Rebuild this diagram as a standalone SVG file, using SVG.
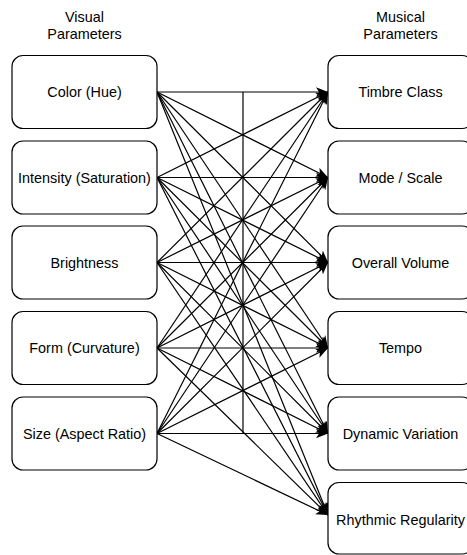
<svg xmlns="http://www.w3.org/2000/svg" width="467" height="555" viewBox="0 0 467 555">
<style>
.box{fill:#fff;stroke:#000;stroke-width:1.2}
.lbl{font-family:"Liberation Sans",Arial,sans-serif;font-size:14.4px;fill:#000;text-anchor:middle}
.edge{stroke:#000;stroke-width:1.2;fill:none;marker-end:url(#arr)}
.plain{stroke:#000;stroke-width:1.2;fill:none}
</style>
<defs>
<marker id="arr" markerUnits="userSpaceOnUse" markerWidth="12" markerHeight="10" viewBox="0 0 10 8" refX="10" refY="4" orient="auto">
<path d="M0,0 L10,4 L0,8 L2.5,4 Z" fill="#000"/>
</marker>
</defs>
<rect width="467" height="555" fill="#fff"/>
<g id="titles">
<text class="lbl" x="84.5" y="21.5">Visual</text>
<text class="lbl" x="84.5" y="39">Parameters</text>
<text class="lbl" x="400.5" y="21.5">Musical</text>
<text class="lbl" x="400.5" y="39">Parameters</text>
</g>
<g id="connectors">
<path class="plain" d="M243,92 V433.5"/>
<line class="edge" x1="157" y1="92" x2="328" y2="92"/>
<line class="edge" x1="157" y1="92" x2="328" y2="177.5"/>
<line class="edge" x1="157" y1="92" x2="328" y2="262.5"/>
<line class="edge" x1="157" y1="92" x2="328" y2="348"/>
<line class="edge" x1="157" y1="92" x2="328" y2="433.5"/>
<line class="edge" x1="157" y1="92" x2="328" y2="515"/>
<line class="edge" x1="157" y1="177.5" x2="328" y2="92"/>
<line class="edge" x1="157" y1="177.5" x2="328" y2="177.5"/>
<line class="edge" x1="157" y1="177.5" x2="328" y2="262.5"/>
<line class="edge" x1="157" y1="177.5" x2="328" y2="348"/>
<line class="edge" x1="157" y1="177.5" x2="328" y2="433.5"/>
<line class="edge" x1="157" y1="177.5" x2="328" y2="515"/>
<line class="edge" x1="157" y1="262.5" x2="328" y2="92"/>
<line class="edge" x1="157" y1="262.5" x2="328" y2="177.5"/>
<line class="edge" x1="157" y1="262.5" x2="328" y2="262.5"/>
<line class="edge" x1="157" y1="262.5" x2="328" y2="348"/>
<line class="edge" x1="157" y1="262.5" x2="328" y2="433.5"/>
<line class="edge" x1="157" y1="262.5" x2="328" y2="515"/>
<line class="edge" x1="157" y1="348" x2="328" y2="92"/>
<line class="edge" x1="157" y1="348" x2="328" y2="177.5"/>
<line class="edge" x1="157" y1="348" x2="328" y2="262.5"/>
<line class="edge" x1="157" y1="348" x2="328" y2="348"/>
<line class="edge" x1="157" y1="348" x2="328" y2="433.5"/>
<line class="edge" x1="157" y1="348" x2="328" y2="515"/>
<line class="edge" x1="157" y1="433.5" x2="328" y2="92"/>
<line class="edge" x1="157" y1="433.5" x2="328" y2="177.5"/>
<line class="edge" x1="157" y1="433.5" x2="328" y2="262.5"/>
<line class="edge" x1="157" y1="433.5" x2="328" y2="348"/>
<line class="edge" x1="157" y1="433.5" x2="328" y2="433.5"/>
<line class="edge" x1="157" y1="433.5" x2="328" y2="515"/>
</g>
<g id="v-color"><rect class="box" x="12" y="55.5" width="145" height="73" rx="11"/><text class="lbl" x="84.5" y="97.3">Color (Hue)</text></g>
<g id="v-intensity"><rect class="box" x="12" y="141" width="145" height="73" rx="11"/><text class="lbl" x="84.5" y="182.8">Intensity (Saturation)</text></g>
<g id="v-brightness"><rect class="box" x="12" y="226" width="145" height="73" rx="11"/><text class="lbl" x="84.5" y="267.8">Brightness</text></g>
<g id="v-form"><rect class="box" x="12" y="311.5" width="145" height="73" rx="11"/><text class="lbl" x="84.5" y="353.3">Form (Curvature)</text></g>
<g id="v-size"><rect class="box" x="12" y="397" width="145" height="73" rx="11"/><text class="lbl" x="84.5" y="438.8">Size (Aspect Ratio)</text></g>
<g id="m-timbre"><rect class="box" x="328" y="55.5" width="145" height="73" rx="11"/><text class="lbl" x="400.5" y="97.3">Timbre Class</text></g>
<g id="m-mode"><rect class="box" x="328" y="141" width="145" height="73" rx="11"/><text class="lbl" x="400.5" y="182.8">Mode / Scale</text></g>
<g id="m-volume"><rect class="box" x="328" y="226" width="145" height="73" rx="11"/><text class="lbl" x="400.5" y="267.8">Overall Volume</text></g>
<g id="m-tempo"><rect class="box" x="328" y="311.5" width="145" height="73" rx="11"/><text class="lbl" x="400.5" y="353.3">Tempo</text></g>
<g id="m-dynamic"><rect class="box" x="328" y="397" width="145" height="73" rx="11"/><text class="lbl" x="400.5" y="438.8">Dynamic Variation</text></g>
<g id="m-rhythm"><rect class="box" x="328" y="482.5" width="145" height="71.5" rx="11"/><text class="lbl" x="400.5" y="525">Rhythmic Regularity</text></g>
</svg>
